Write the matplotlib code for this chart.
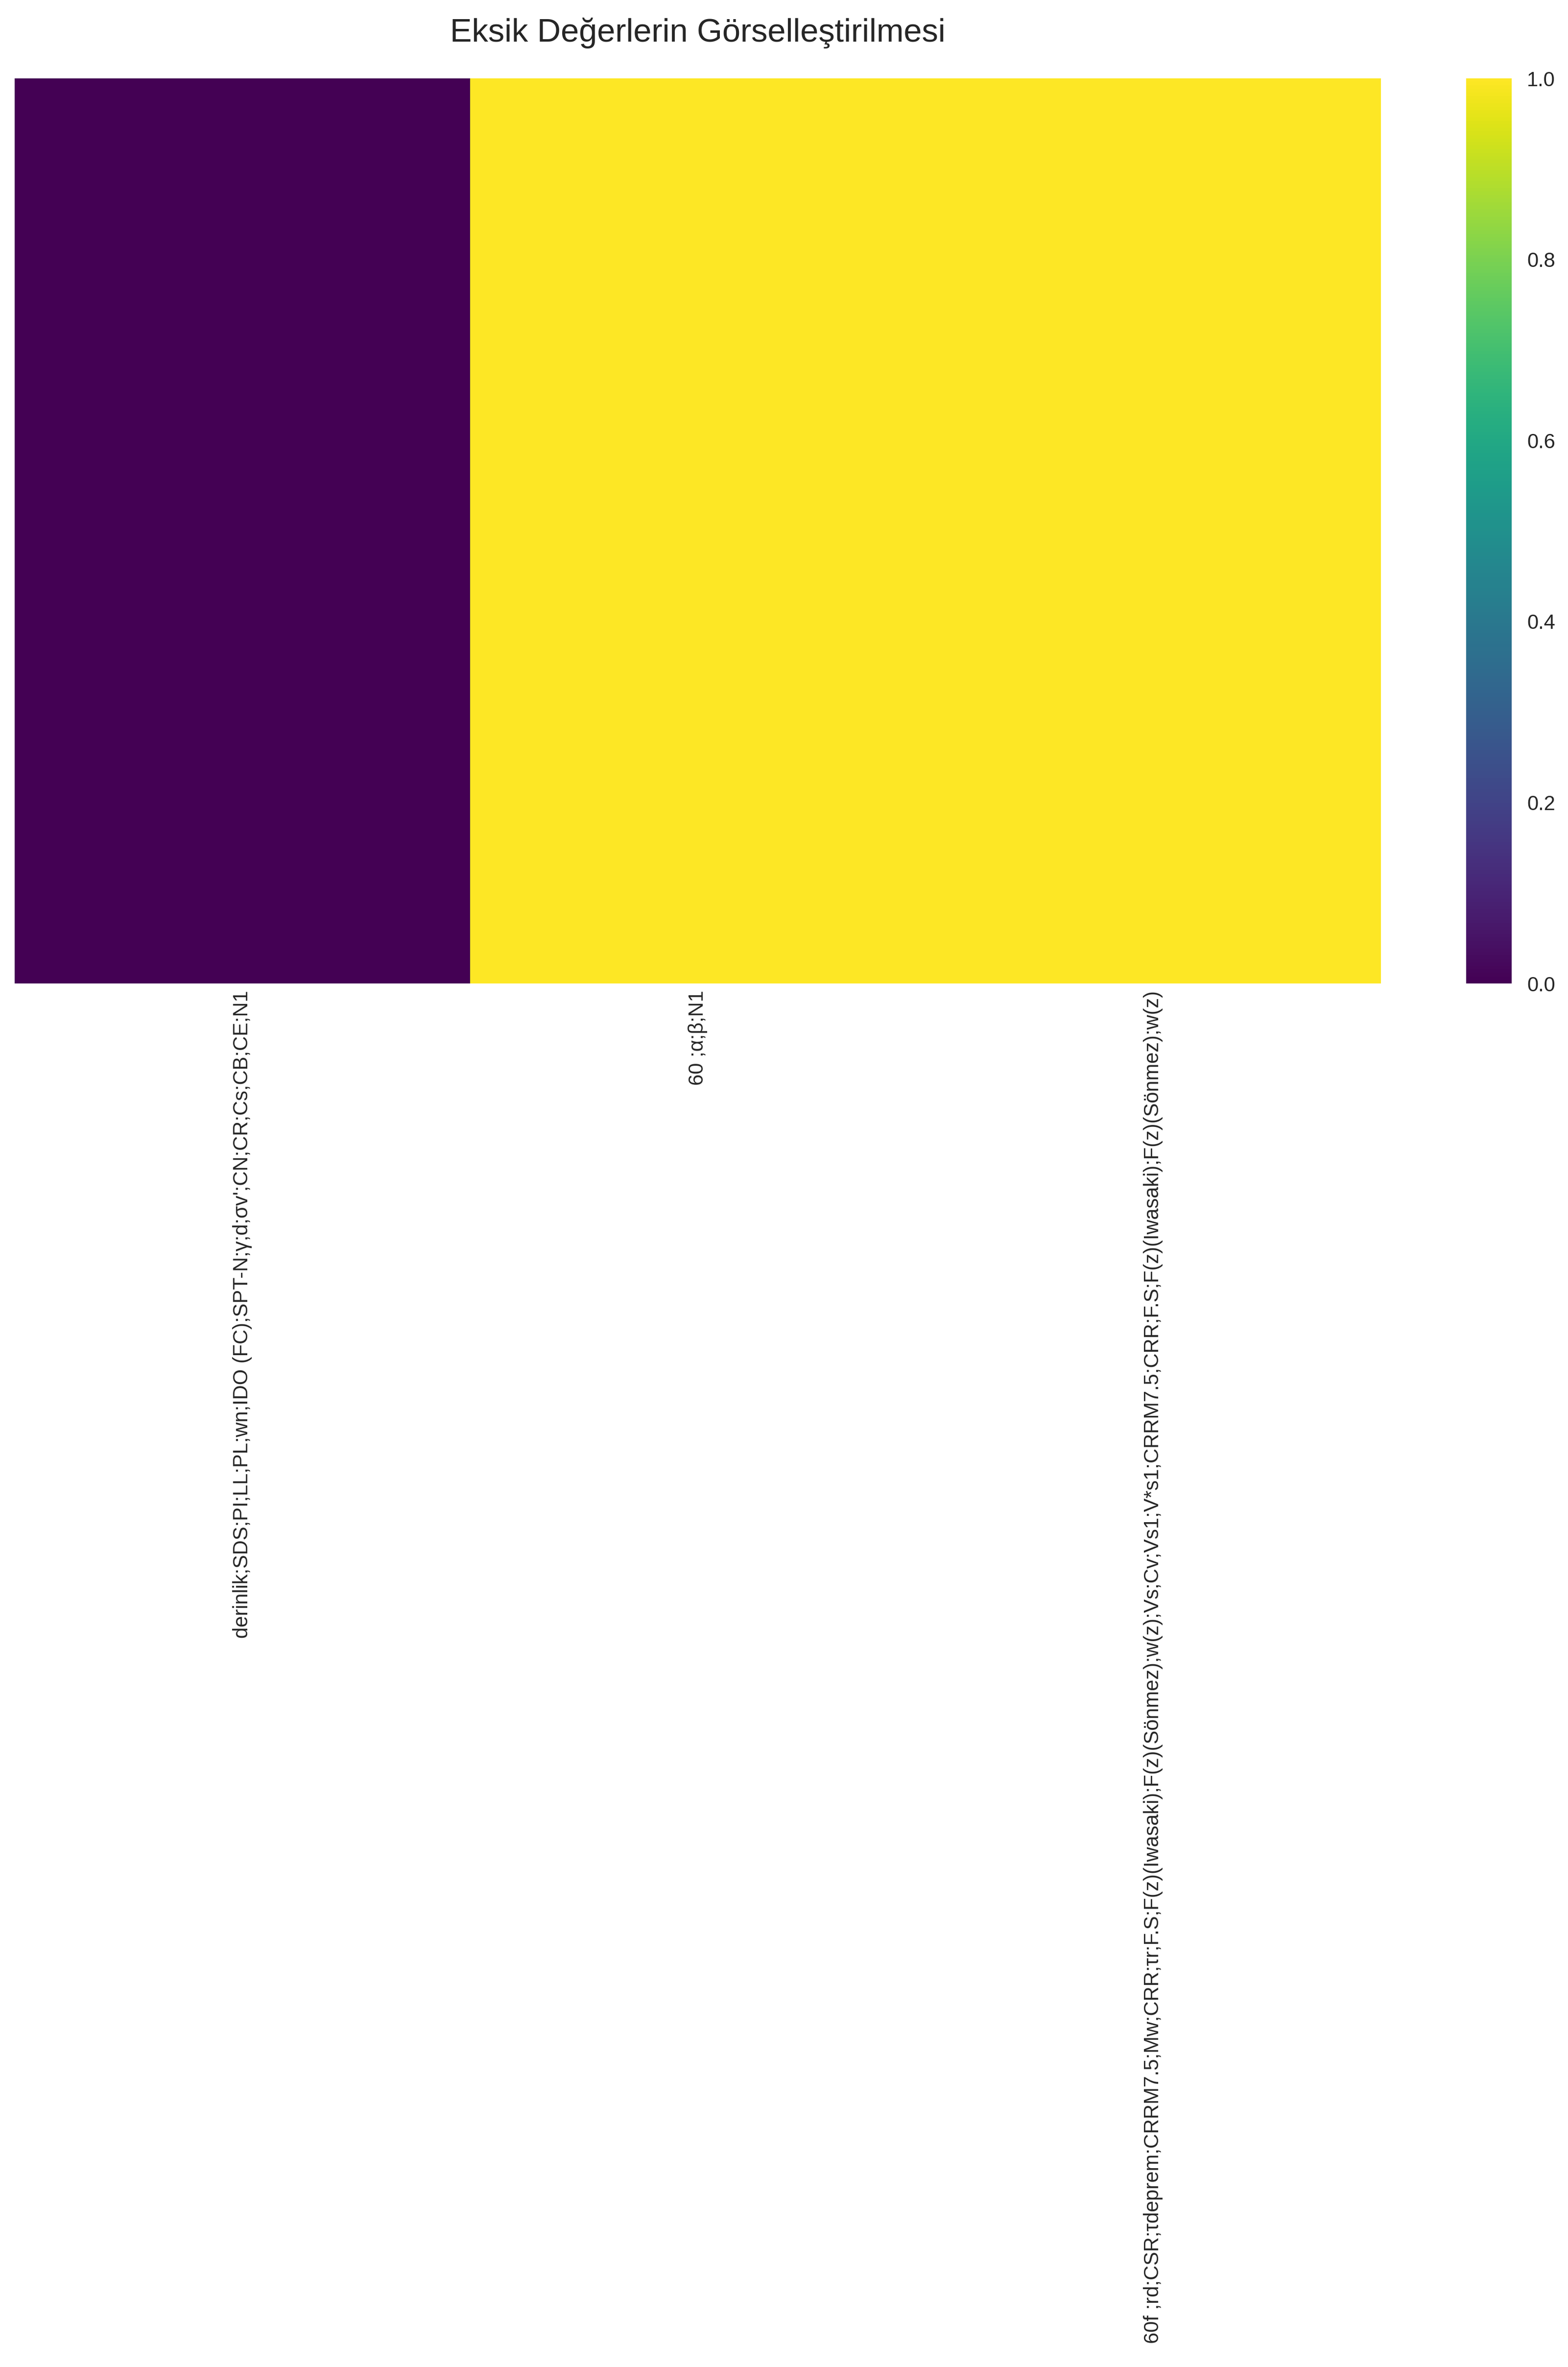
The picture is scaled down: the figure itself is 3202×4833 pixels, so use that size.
import numpy as np
import pandas as pd
import matplotlib
matplotlib.use("Agg")
import matplotlib.pyplot as plt
import seaborn as sns

# eksik değer tablosu: sütun adları ve her sütunun eksik olup olmadığı
columns = [
    "derinlik;SDS;PI;LL;PL;wn;IDO (FC);SPT-N;γ;d;σv';CN;CR;Cs;CB;CE;N1",
    "60 ;α;β;N1",
    "60f ;rd;CSR;τdeprem;CRRM7.5;Mw;CRR;τr;F.S;F(z)(Iwasaki);F(z)(Sönmez);w(z);"
    "Vs;Cv;Vs1;V*s1;CRRM7.5;CRR;F.S;F(z)(Iwasaki);F(z)(Sönmez);w(z)",
]
is_missing = [False, True, True]
n_rows = 60

sns.set_style("whitegrid")
plt.rcParams["font.family"] = ["Liberation Sans", "DejaVu Sans"]

missing = pd.DataFrame({c: [m] * n_rows for c, m in zip(columns, is_missing)})

W, H = 3203, 4833
fig = plt.figure(figsize=(W / 300, H / 300), dpi=300)
ax = fig.add_axes([30 / W, 1 - 2008 / H, 2790 / W, 1848 / H])
cax = fig.add_axes([2994 / W, 1 - 2008 / H, 93 / W, 1848 / H])

sns.heatmap(missing.astype(int), cmap="viridis", vmin=0, vmax=1,
            yticklabels=False, ax=ax, cbar_ax=cax)
ax.set_title("Eksik Değerlerin Görselleştirilmesi", fontsize=16, pad=18)
ax.tick_params(axis="x", labelsize=10, rotation=90, length=0)
cax.yaxis.set_ticks([0.0, 0.2, 0.4, 0.6, 0.8, 1.0])
cax.tick_params(labelsize=10, length=0, pad=7.5)

fig.savefig("out.png", dpi=300)
